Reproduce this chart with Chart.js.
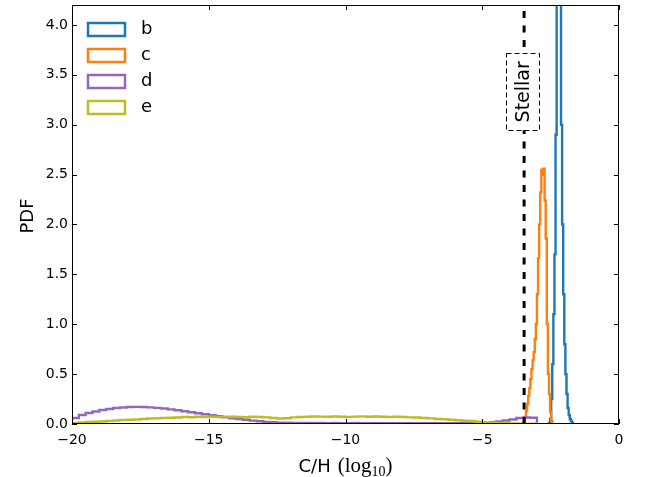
<!DOCTYPE html>
<html><head><meta charset="utf-8">
<script src="https://cdn.jsdelivr.net/npm/chart.js@4"></script>
<style>html,body{margin:0;padding:0;background:#fff}#wrap{width:645px;height:477px;position:relative}</style>
</head><body><div id="wrap"><canvas id="c"></canvas></div>
<script>
// ---- data ----
const seriesNames = ['b', 'c', 'd', 'e'];
const seriesColors = ['#1f77b4', '#ff7f0e', '#9467bd', '#bcbd22'];

const bBinStart = -2.56;
const bBinWidth = 0.04;
const bValues = [0.01, 0.05, 0.25, 0.6, 1.1, 1.7, 2.9, 4.3, 4.8, 4.9, 4.4, 3.0, 2.0, 1.3, 0.8, 0.5, 0.3, 0.16, 0.09, 0.05, 0.03, 0.01];

const cBinStart = -3.52;
const cBinWidth = 0.04;
const cValues = [0.01, 0.03, 0.07, 0.13, 0.2, 0.28, 0.36, 0.45, 0.55, 0.64, 0.72, 0.85, 1.0, 1.3, 1.66, 2.0, 2.32, 2.55, 2.5, 2.56, 2.24, 1.86, 1.0, 0.5, 0.3, 0.12, 0.03];

const dBinStart = -20;
const dBinWidth = 0.25;
const dValues = [0.06, 0.09, 0.11, 0.125, 0.14, 0.15, 0.16, 0.165, 0.17, 0.172, 0.17, 0.167, 0.162, 0.155, 0.147, 0.138, 0.128, 0.118, 0.108, 0.098, 0.088, 0.078, 0.068, 0.058, 0.05, 0.042, 0.034, 0.027, 0.021, 0.017, 0.014, 0.012, 0.011,
  0.011, 0.01, 0.01, 0.01, 0.009, 0.01, 0.009, 0.009, 0.01, 0.009, 0.008, 0.009, 0.009, 0.008, 0.009, 0.008, 0.008, 0.009, 0.008, 0.008, 0.009, 0.008, 0.009, 0.009, 0.01, 0.01, 0.011,
  0.014, 0.018, 0.025, 0.035, 0.045, 0.06, 0.065, 0.062];

const eBinStart = -20;
const eBinWidth = 0.25;
const eValues = [0.01, 0.015, 0.02, 0.022, 0.025, 0.03, 0.035, 0.04, 0.042, 0.045, 0.05, 0.055, 0.057, 0.06, 0.062, 0.065, 0.07, 0.068, 0.072, 0.07, 0.073, 0.07, 0.074, 0.072, 0.07, 0.068, 0.072, 0.07, 0.066, 0.06, 0.055, 0.058, 0.066, 0.07, 0.072, 0.075, 0.074, 0.072, 0.075, 0.073, 0.071, 0.074, 0.076, 0.073, 0.075, 0.072, 0.07, 0.072, 0.07, 0.066, 0.065, 0.06, 0.056, 0.05, 0.047, 0.042, 0.038, 0.033, 0.03, 0.022, 0.017, 0.012, 0.01, 0.008, 0.006, 0.005, 0.004, 0.003];

const stellarValue = -3.47;
const stellarLabel = 'Stellar';
const xTickValues = [-20, -15, -10, -5, 0];
const yTickValues = [0, 0.5, 1.0, 1.5, 2.0, 2.5, 3.0, 3.5, 4.0];
const xTitleMain = 'C/H';
const yTitle = 'PDF';

// ---- build step outlines (bin edges) ----
function stepPoints(start, width, vals) {
  const pts = [{x: start, y: 0}];
  vals.forEach((v, i) => pts.push({x: Math.round((start + i * width) * 1000) / 1000, y: v}));
  pts.push({x: Math.round((start + vals.length * width) * 1000) / 1000, y: 0});
  return pts;
}
const seriesData = [
  stepPoints(bBinStart, bBinWidth, bValues),
  stepPoints(cBinStart, cBinWidth, cValues),
  stepPoints(dBinStart, dBinWidth, dValues),
  stepPoints(eBinStart, eBinWidth, eValues)
];

const FONT = "'DejaVu Sans', sans-serif";

const datasets = [{
  label: stellarLabel, data: [{x: stellarValue, y: 0}, {x: stellarValue, y: 4.2}],
  borderColor: '#000', borderWidth: 3, borderDash: [7, 7.5], pointRadius: 0, fill: false, order: 0
}];
seriesNames.forEach((n, i) => datasets.push({
  label: n, data: seriesData[i], borderColor: seriesColors[i], backgroundColor: 'transparent',
  borderWidth: 2.4, pointRadius: 0, fill: false, stepped: true, tension: 0, order: 4 - i,
  borderJoinStyle: 'miter'
}));

const decorPlugin = {
  id: 'decor',
  afterDatasetsDraw(chart) {
    const {ctx, chartArea: a, scales: {x, y}} = chart;
    // Stellar label box
    const cx = x.getPixelForValue(stellarValue) - 1.5;
    const cy = y.getPixelForValue(3.33);
    const bw = 33, bh = 77;
    ctx.save();
    ctx.fillStyle = '#fff';
    ctx.fillRect(cx - bw / 2, cy - bh / 2, bw, bh);
    ctx.strokeStyle = '#000'; ctx.lineWidth = 1; ctx.setLineDash([5, 3]);
    ctx.strokeRect(Math.round(cx - bw / 2) + 0.5, Math.round(cy - bh / 2) + 0.5, bw, bh);
    ctx.setLineDash([]);
    ctx.translate(cx, cy); ctx.rotate(-Math.PI / 2);
    ctx.fillStyle = '#000'; ctx.font = "19px " + FONT;
    ctx.textAlign = 'center'; ctx.textBaseline = 'middle';
    ctx.fillText(stellarLabel, 0, 1);
    ctx.restore();
  },
  afterDraw(chart) {
    const {ctx, chartArea: a, scales: {x, y}} = chart;
    ctx.save();
    // frame
    ctx.strokeStyle = '#000'; ctx.lineWidth = 1;
    ctx.strokeRect(a.left + 0.5, a.top + 0.5, a.right - a.left - 1, a.bottom - a.top - 1);
    // inward ticks
    const tl = 5;
    ctx.beginPath();
    x.ticks.forEach(t => {
      const px = Math.round(x.getPixelForValue(t.value)) + 0.5;
      ctx.moveTo(px, a.bottom); ctx.lineTo(px, a.bottom - tl);
      ctx.moveTo(px, a.top); ctx.lineTo(px, a.top + tl);
    });
    y.ticks.forEach(t => {
      const py = Math.round(y.getPixelForValue(t.value)) + 0.5;
      ctx.moveTo(a.left, py); ctx.lineTo(a.left + tl, py);
      ctx.moveTo(a.right, py); ctx.lineTo(a.right - tl, py);
    });
    ctx.stroke();
    // legend
    const lx = a.left + 16, ly0 = 29.5, dy = 26, pw = 37, ph = 13;
    seriesNames.forEach((n, i) => {
      const cyy = ly0 + i * dy;
      ctx.strokeStyle = seriesColors[i]; ctx.lineWidth = 2.5; ctx.lineJoin = 'miter';
      ctx.strokeRect(lx, cyy - ph / 2, pw, ph);
      ctx.fillStyle = '#000'; ctx.font = "18px " + FONT;
      ctx.textAlign = 'left'; ctx.textBaseline = 'middle';
      ctx.fillText(n, lx + 53, cyy);
    });
    // y title
    ctx.save();
    ctx.translate(28, 216); ctx.rotate(-Math.PI / 2);
    ctx.font = "18px " + FONT; ctx.fillStyle = '#000';
    ctx.textAlign = 'center'; ctx.textBaseline = 'middle';
    ctx.fillText(yTitle, 0, 0);
    ctx.restore();
    // x title: C/H (log10)
    const base = 472;
    ctx.fillStyle = '#000'; ctx.textBaseline = 'alphabetic'; ctx.textAlign = 'left';
    ctx.font = "18px " + FONT;
    const mainW = ctx.measureText(xTitleMain).width;
    const serif = "'Liberation Serif', serif";
    ctx.font = "21px " + serif;
    const w1 = ctx.measureText('(log').width;
    ctx.font = "14px " + serif;
    const w2 = ctx.measureText('10').width;
    ctx.font = "21px " + serif;
    const w3 = ctx.measureText(')').width;
    const gap = 7;
    const total = mainW + gap + w1 + w2 + w3;
    let sx = (a.left + a.right) / 2 - total / 2;
    ctx.font = "18px " + FONT; ctx.fillText(xTitleMain, sx, base); sx += mainW + gap;
    ctx.font = "21px " + serif; ctx.fillText('(log', sx, base); sx += w1;
    ctx.font = "14px " + serif; ctx.fillText('10', sx, base + 4); sx += w2;
    ctx.font = "21px " + serif; ctx.fillText(')', sx, base);
    ctx.restore();
  }
};

new Chart(document.getElementById('c'), {
  type: 'line',
  data: {datasets},
  options: {
    animation: false, responsive: true, maintainAspectRatio: false,
    layout: {padding: {left: 0, right: 26, top: 5, bottom: 0}},
    plugins: {legend: {display: false}, tooltip: {enabled: false}},
    scales: {
      x: {
        type: 'linear', min: -20, max: 0,
        afterFit(s) { s.height = 53; s.paddingLeft = 0; s.paddingRight = 0; },
        afterBuildTicks(s) { s.ticks = xTickValues.map(v => ({value: v})); },
        grid: {display: false, drawTicks: false}, border: {display: false},
        ticks: {padding: 8, color: '#000', font: {family: FONT, size: 14}, maxRotation: 0,
          callback: v => String(v).replace('-', '\u2212')}
      },
      y: {
        type: 'linear', min: 0, max: 4.2,
        afterFit(s) { s.width = 72; s.paddingTop = 0; s.paddingBottom = 0; },
        afterBuildTicks(s) { s.ticks = yTickValues.map(v => ({value: v})); },
        grid: {display: false, drawTicks: false}, border: {display: false},
        ticks: {padding: 4, color: '#000', font: {family: FONT, size: 14}, callback: v => Number(v).toFixed(1)}
      }
    }
  },
  plugins: [decorPlugin]
});
</script></body></html>
